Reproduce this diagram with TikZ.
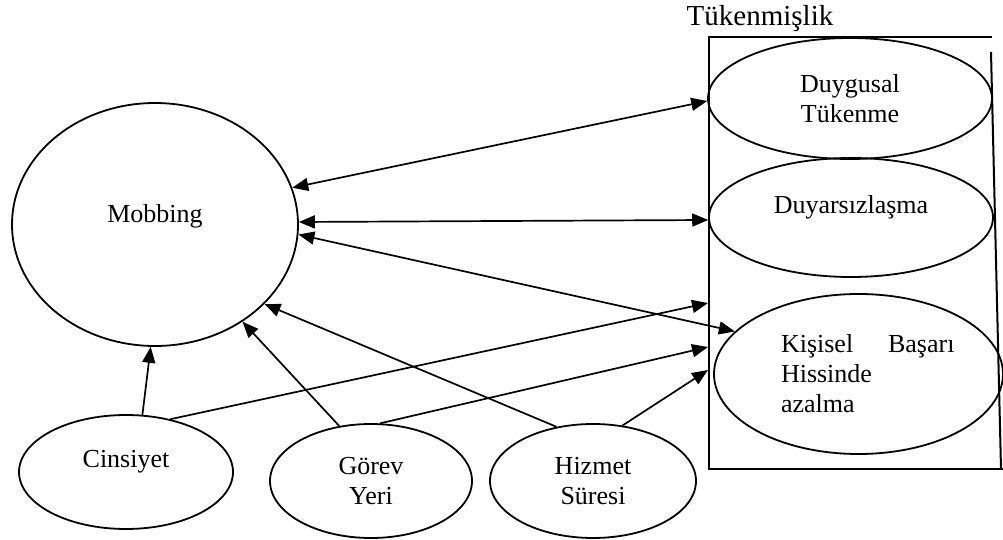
\documentclass[tikz,border=0pt]{standalone}
\usepackage{fontspec}
\setmainfont{Liberation Serif}
\usetikzlibrary{calc}
\usetikzlibrary{positioning}
\usetikzlibrary{shapes.geometric}
\usetikzlibrary{arrows.meta}
\tikzstyle{ovalnode} = [draw, ellipse, line width=0.9pt, inner sep=0pt, align=center, font=\fontsize{13pt}{15pt}\selectfont]
\tikzstyle{tekline} = [text height=9pt]
\tikzstyle{baglanti} = [line width=0.85pt, >={Triangle[length=8pt,width=6.5pt]}]
\tikzstyle{kutu} = [line width=1pt]

\begin{document}
\begin{tikzpicture}[x=0.5pt, y=-0.5pt]
    \useasboundingbox (0,0) rectangle (1003,540);
    \node[ovalnode, tekline, text depth=11.4pt, minimum width=143pt, minimum height=121.5pt] (mob) at (155,224.5) {Mobbing};
    \node[ovalnode, minimum width=142pt, minimum height=60.5pt] (dyg) at ($(mob)+(695,-126)$) {Duygusal\\Tükenme};
    \node[ovalnode, tekline, text depth=12.9pt, minimum width=142pt, minimum height=59.5pt] (dyr) at ($(dyg)+(1,119)$) {Duyarsızlaşma};
    \node[ovalnode, align=left, text width=96pt, minimum width=144.5pt, minimum height=80pt] (kis) at ($(dyr)+(7.5,156.5)$) {\hspace*{9.25pt}Kişisel\hfill Başarı\\\hspace*{9.25pt}Hissinde\\\hspace*{9.25pt}azalma};
    \node[anchor=base, font=\fontsize{14.5pt}{17pt}\selectfont] (tkn) at ($(dyg)+(-90,-72.5)$) {Tükenmişlik};
    \node[ovalnode, tekline, text depth=13.8pt, minimum width=107pt, minimum height=57pt] (cin) at ($(mob)+(-29,247.5)$) {Cinsiyet};
    \node[ovalnode, minimum width=101pt, minimum height=57pt] (gor) at ($(cin)+(245,9)$) {Görev\\Yeri};
    \node[ovalnode, minimum width=103pt, minimum height=57pt] (hiz) at ($(gor)+(222,0)$) {Hizmet\\Süresi};
    % kutu
    \draw[kutu] (992,37.5) -- (709,37.5) -- (709,468.5) -- (1003,468.5);
    \draw[kutu] (991,52) -- (1001,468.5);
    \coordinate (kutuA) at (708,303);
    \coordinate (kutuB) at (708,347);
    \coordinate (kutuC) at (708,370);
    % oklar
    \draw[baglanti, <->] (mob.15) -- (dyg.181);
    \draw[baglanti, <->] (mob.1) -- (dyr.181);
    \draw[baglanti, <->] (mob.356) -- (kis.161);
    \draw[baglanti, ->] (cin.74) -- (mob.268);
    \draw[baglanti, ->] (cin.50) -- (kutuA);
    \draw[baglanti, ->] (gor.120) -- (mob.312);
    \draw[baglanti, ->] (gor.81) -- (kutuB);
    \draw[baglanti, ->] (hiz.124) -- (mob.324);
    \draw[baglanti, ->] (hiz.62) -- (kutuC);
\end{tikzpicture}
\end{document}
